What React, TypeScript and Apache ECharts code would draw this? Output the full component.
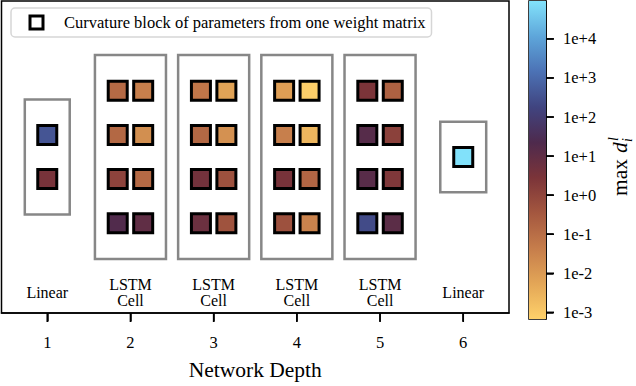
import React, { useEffect, useRef } from "react";
import * as echarts from "echarts";

const FONT = '"Liberation Serif", "Times New Roman", "DejaVu Serif", serif';

// Network depth positions and layer names
const DEPTHS = [1, 2, 3, 4, 5, 6];
const LAYER_NAMES = ["Linear", "LSTM\nCell", "LSTM\nCell", "LSTM\nCell", "LSTM\nCell", "Linear"];
const LEGEND_TEXT = "Curvature block of parameters from one weight matrix";

// log10(max d) per curvature block, rows top -> bottom
const LSTM_ROWS = [1.5, 0.5, -0.5, -1.5];
const LINEAR1_ROWS = [0.5, -0.5];
const LINEAR6_ROWS = [0];

const D1 = [2.6, 0.5];
const D2_LEFT = [-0.9, -0.85, 0.05, 1.3];
const D2_RIGHT = [-1.4, -1.75, -0.9, 1.0];
const D3_LEFT = [-1.2, -0.85, 0.6, 0.75];
const D3_RIGHT = [-2.2, -1.8, -0.3, -0.35];
const D4_LEFT = [-2.1, -1.4, 0.5, -0.3];
const D4_RIGHT = [-3.1, -2.6, -0.8, -1.5];
const D5_LEFT = [0.45, 1.2, 1.15, 2.4];
const D5_RIGHT = [-0.7, 0.1, 0.35, 1.1];
const D6 = [4.95];

// axes ranges
const X_MIN = 0.45;
const X_MAX = 6.55;
const Y_MIN = -3.53;
const Y_MAX = 3.53;

// colour bar
const LOG_MIN = -3.17;
const LOG_MAX = 4.97;
const LOG_TICKS = [-3, -2, -1, 0, 1, 2, 3, 4];
const CMAP = [
  "#fed16a",
  "#e3a657",
  "#c67d4b",
  "#a4573f",
  "#7b3439",
  "#4e2a4d",
  "#404480",
  "#4c72b5",
  "#5ea6da",
  "#82e2fb",
];

// group frames: [depth, half width, half height] in data units
const FRAME_DEPTHS = [1, 2, 3, 4, 5, 6];
const FRAME_HALF_W = [0.27, 0.427, 0.427, 0.427, 0.427, 0.276];
const FRAME_HALF_H = [1.3, 2.31, 2.31, 2.31, 2.31, 0.8];

const COL_OFFSET = 0.153;
const LABEL_Y = -3.055;

function buildSquares() {
  const out: number[][] = [];
  LINEAR1_ROWS.forEach((y, i) => out.push([1, y, D1[i]]));
  const lstm = [
    [2, D2_LEFT, D2_RIGHT],
    [3, D3_LEFT, D3_RIGHT],
    [4, D4_LEFT, D4_RIGHT],
    [5, D5_LEFT, D5_RIGHT],
  ] as [number, number[], number[]][];
  lstm.forEach(([d, L, R]) => {
    LSTM_ROWS.forEach((y, i) => {
      out.push([d - COL_OFFSET, y, L[i]]);
      out.push([d + COL_OFFSET, y, R[i]]);
    });
  });
  LINEAR6_ROWS.forEach((y, i) => out.push([6, y, D6[i]]));
  return out;
}

export default function App() {
  const ref = useRef<HTMLDivElement>(null);
  useEffect(() => {
    const chart = echarts.init(ref.current!, null, { renderer: "svg" });
    const frames = FRAME_DEPTHS.map((d, i) => [d, FRAME_HALF_W[i], FRAME_HALF_H[i]]);
    const labels = DEPTHS.map((d) => [d, LABEL_Y]);
    const option: any = {
      animation: false,
      backgroundColor: "#fff",
      textStyle: { fontFamily: FONT },
      grid: [
        { left: 1.5, top: 1, width: 507.5, height: 318, show: true, borderColor: "#000", borderWidth: 1.5 },
        { left: 529, top: 1, width: 17, height: 318, show: true, borderColor: "#000", borderWidth: 1.5 },
      ],
      xAxis: [
        {
          gridIndex: 0,
          type: "value",
          min: X_MIN,
          max: X_MAX,
          axisLine: { show: true, onZero: false, lineStyle: { color: "#000", width: 1.5 } },
          splitLine: { show: false },
          axisTick: { show: true, customValues: DEPTHS, length: 8.5, lineStyle: { color: "#000", width: 1.5 } },
          axisLabel: { customValues: DEPTHS, margin: 21, fontSize: 16.5, fontFamily: FONT, color: "#000" },
          name: "Network Depth",
          nameLocation: "middle",
          nameGap: 46,
          nameTextStyle: { fontSize: 21.5, fontFamily: FONT, color: "#000" },
        },
        { gridIndex: 1, type: "value", min: 0, max: 1, show: false },
      ],
      yAxis: [
        { gridIndex: 0, type: "value", min: Y_MIN, max: Y_MAX, show: false },
        {
          gridIndex: 1,
          type: "value",
          position: "right",
          min: LOG_MIN,
          max: LOG_MAX,
          axisLine: { show: true, onZero: false, lineStyle: { color: "#000", width: 1.5 } },
          splitLine: { show: false },
          axisTick: { show: true, customValues: LOG_TICKS, length: 7.5, lineStyle: { color: "#000", width: 1.5 } },
          axisLabel: {
            customValues: LOG_TICKS,
            margin: 17,
            fontSize: 16.5,
            fontFamily: FONT,
            color: "#000",
            formatter: (v: number) => "1e" + (v >= 0 ? "+" : "-") + Math.abs(Math.round(v)),
          },
        },
      ],
      visualMap: {
        type: "continuous",
        show: false,
        min: LOG_MIN,
        max: LOG_MAX,
        dimension: 2,
        seriesIndex: 1,
        inRange: { color: CMAP },
      },
      legend: {
        data: [
          {
            name: LEGEND_TEXT,
            icon: "rect",
            itemStyle: { color: "#fff", borderColor: "#000", borderWidth: 3 },
          },
        ],
        left: 11,
        top: 8,
        padding: [6, 6, 6, 17.5],
        itemWidth: 13,
        itemHeight: 13,
        backgroundColor: "#fff",
        borderColor: "#d6d6d6",
        borderWidth: 1.5,
        borderRadius: 4,
        selectedMode: false,
        textStyle: { fontSize: 16.5, fontFamily: FONT, color: "#000", padding: [0, 0, 0, 16] },
      },
      series: [
        {
          type: "custom",
          xAxisIndex: 0,
          yAxisIndex: 0,
          z: 1,
          silent: true,
          data: frames,
          renderItem: (params: any, api: any) => {
            const x = api.value(0);
            const hw = api.value(1);
            const hh = api.value(2);
            const p1 = api.coord([x - hw, hh]);
            const p2 = api.coord([x + hw, -hh]);
            return {
              type: "rect",
              shape: { x: p1[0], y: p1[1], width: p2[0] - p1[0], height: p2[1] - p1[1] },
              style: { fill: "none", stroke: "#878787", lineWidth: 2.5 },
            };
          },
        },
        {
          type: "scatter",
          name: LEGEND_TEXT,
          xAxisIndex: 0,
          yAxisIndex: 0,
          z: 3,
          symbol: "rect",
          symbolSize: 19,
          itemStyle: { borderColor: "#000", borderWidth: 3, opacity: 1 },
          data: buildSquares(),
        },
        {
          type: "custom",
          xAxisIndex: 0,
          yAxisIndex: 0,
          z: 4,
          silent: true,
          data: labels,
          renderItem: (params: any, api: any) => {
            const p = api.coord([api.value(0), api.value(1)]);
            return {
              type: "text",
              x: p[0],
              y: p[1],
              style: {
                text: LAYER_NAMES[params.dataIndex],
                font: `16px ${FONT}`,
                lineHeight: 16,
                fill: "#000",
                align: "center",
                verticalAlign: "middle",
              },
            };
          },
        },
        {
          type: "custom",
          xAxisIndex: 1,
          yAxisIndex: 1,
          silent: true,
          data: [[0, LOG_MIN, LOG_MAX]],
          renderItem: (params: any, api: any) => {
            const p1 = api.coord([0, api.value(2)]);
            const p2 = api.coord([1, api.value(1)]);
            return {
              type: "rect",
              shape: { x: p1[0], y: p1[1], width: p2[0] - p1[0], height: p2[1] - p1[1] },
              style: {
                fill: new echarts.graphic.LinearGradient(
                  0,
                  1,
                  0,
                  0,
                  CMAP.map((c, i) => ({ offset: i / (CMAP.length - 1), color: c }))
                ),
              },
            };
          },
        },
      ],
    };
    chart.setOption(option);

    const graphics: any[] = [
      {
        type: "group",
        x: 620,
        y: 165,
        rotation: Math.PI / 2,
        z: 100,
        children: [
          { type: "text", x: -31, y: 0, style: { text: "max ", font: `21.5px ${FONT}`, fill: "#000", verticalAlign: "middle" } },
          { type: "text", x: 12, y: 0, style: { text: "d", font: `italic 21.5px ${FONT}`, fill: "#000", verticalAlign: "middle" } },
          { type: "text", x: 24, y: -7, style: { text: "l", font: `italic 14px ${FONT}`, fill: "#000", verticalAlign: "middle" } },
          { type: "text", x: 23, y: 7, style: { text: "i", font: `italic 14px ${FONT}`, fill: "#000", verticalAlign: "middle" } },
        ],
      },
    ];
    try {
      DEPTHS.forEach((d) => {
        const p = chart.convertToPixel({ gridIndex: 0 } as any, [d, Y_MIN]) as number[];
        if (p && isFinite(p[0])) {
          graphics.push({
            type: "rect",
            z: 100,
            silent: true,
            shape: { x: p[0] - 0.8, y: p[1], width: 1.6, height: 9 },
            style: { fill: "#000" },
          });
        }
      });
      LOG_TICKS.forEach((v) => {
        const p = chart.convertToPixel({ gridIndex: 1 } as any, [1, v]) as number[];
        if (p && isFinite(p[1])) {
          graphics.push({
            type: "rect",
            z: 100,
            silent: true,
            shape: { x: p[0], y: p[1] - 0.8, width: 8, height: 1.6 },
            style: { fill: "#000" },
          });
        }
      });
    } catch (e) {
      // keep the chart even if pixel conversion fails
    }
    chart.setOption({ graphic: graphics });
    return () => chart.dispose();
  }, []);
  return <div ref={ref} style={{ position: "absolute", left: 0, top: 0, width: 636, height: 386 }} />;
}
